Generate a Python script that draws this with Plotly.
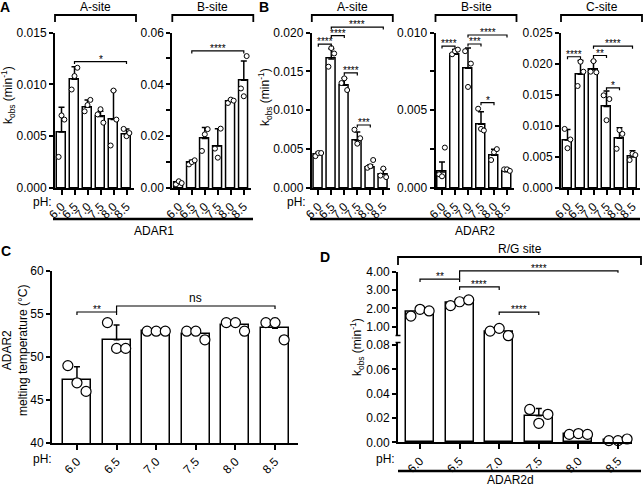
import plotly.graph_objects as go

W, H = 643, 488
FONT = "Liberation Sans, Arial, sans-serif"

ph_labels = ["6.0", "6.5", "7.0", "7.5", "8.0", "8.5"]

# A: ADAR1, A-site
adar1_a_mean = [0.0054, 0.0105, 0.0078, 0.0069, 0.0066, 0.0052]
adar1_a_sd = [0.0024, 0.0012, 0.0007, 0.0005, 0.0028, 0.0005]
adar1_a_pts = [[0.0030, 0.0070, 0.0066], [0.0095, 0.0108, 0.0116], [0.0074, 0.0080, 0.0085],
               [0.0071, 0.0076, 0.0063], [0.0041, 0.0094, 0.0066], [0.0057, 0.0050, 0.0053]]

# A: ADAR1, B-site
adar1_b_mean = [0.0021, 0.0098, 0.0191, 0.0162, 0.0335, 0.0416]
adar1_b_sd = [0.0005, 0.0009, 0.0042, 0.0067, 0.0006, 0.0074]
adar1_b_pts = [[0.0014, 0.0026, 0.0019], [0.0091, 0.0100, 0.0107], [0.0143, 0.0207, 0.0227],
               [0.0152, 0.0117, 0.0229], [0.0328, 0.0341, 0.0337], [0.0384, 0.0354, 0.0509]]

# B: ADAR2, A-site
adar2_a_mean = [0.0043, 0.0166, 0.0132, 0.0061, 0.0026, 0.0018]
adar2_a_sd = [0.0003, 0.0013, 0.0009, 0.0011, 0.0004, 0.0006]
adar2_a_pts = [[0.0041, 0.0045, 0.0045], [0.0156, 0.0180, 0.0173], [0.0135, 0.0141, 0.0126],
               [0.0075, 0.0057, 0.0064], [0.0026, 0.0028, 0.0036], [0.0016, 0.0025, 0.0014]]

# B: ADAR2, B-site
adar2_b_mean = [0.00103, 0.0086, 0.0077, 0.0041, 0.0021, 0.00105]
adar2_b_sd = [0.00064, 0.0003, 0.0013, 0.0008, 0.0004, 0.0002]
adar2_b_pts = [[0.00088, 0.00075, 0.0026], [0.0086, 0.0088, 0.0089], [0.0088, 0.0065, 0.0080],
               [0.0051, 0.0038, 0.0037], [0.0018, 0.0023, 0.0025], [0.0012, 0.0012, 0.0011]]

# B: ADAR2, C-site
adar2_c_mean = [0.0077, 0.0183, 0.0190, 0.0131, 0.0080, 0.0050]
adar2_c_sd = [0.0017, 0.0022, 0.0014, 0.0025, 0.0017, 0.0010]
adar2_c_pts = [[0.0095, 0.0064, 0.0078], [0.0164, 0.0203, 0.0187], [0.0187, 0.0204, 0.0186],
               [0.0149, 0.0109, 0.0143], [0.0063, 0.0093, 0.0087], [0.0045, 0.0055, 0.0053]]

# C: ADAR2 melting temperature
tm_mean = [47.33, 52.0, 53.0, 52.67, 53.67, 53.33]
tm_sd = [1.53, 1.73, 0.0, 0.58, 0.58, 1.15]
tm_pts = [[49, 47, 46], [54, 51, 51], [53, 53, 53], [53, 53, 52], [54, 54, 53], [54, 54, 52]]

# D: ADAR2d, R/G site
rg_mean = [1.80, 2.32, 0.73, 0.0219, 0.0067, 0.0018]
rg_sd = [0.19, 0.16, 0.20, 0.0058, 0.0004, 0.0008]
rg_pts = [[1.58, 1.95, 1.86], [2.15, 2.36, 2.46], [0.76, 0.91, 0.51],
          [0.027, 0.0156, 0.023], [0.0065, 0.0072, 0.0065], [0.0014, 0.0014, 0.0027]]

fig = go.Figure()
geo = {}
shapes = []
annots = []


def sfx(n):
    return "" if n == 1 else str(n)


def px_x(n, v):
    g = geo[n]
    return g["x0"] + (v - g["xr"][0]) / (g["xr"][1] - g["xr"][0]) * (g["x1"] - g["x0"])


def px_y(n, v):
    g = geo[n]
    return g["yb"] - (v - g["yr"][0]) / (g["yr"][1] - g["yr"][0]) * (g["yb"] - g["yt"])


def line(x0, y0, x1, y1, w=1.5):
    shapes.append(dict(type="line", xref="paper", yref="paper", x0=x0 / W, x1=x1 / W,
                       y0=1 - y0 / H, y1=1 - y1 / H, line=dict(color="black", width=w)))


def text(x, y, s, size=12, bold=False, angle=0, xanchor="center", yanchor="middle", yshift=0):
    if bold:
        s = "<b>" + s + "</b>"
    annots.append(dict(x=x / W, y=1 - y / H, xref="paper", yref="paper", text=s, showarrow=False,
                       font=dict(size=size, color="black", family=FONT), textangle=angle,
                       xanchor=xanchor, yanchor=yanchor, yshift=yshift))


def axes(n, xpx, ypx, xr, yr, yticks, fmt, minor=None, xanchor_n=None, ticklen=4):
    geo[n] = dict(x0=xpx[0], x1=xpx[1], yb=ypx[0], yt=ypx[1], xr=xr, yr=yr)
    xn = xanchor_n or n
    ya = dict(domain=[1 - ypx[0] / H, 1 - ypx[1] / H], range=yr, anchor="x" + sfx(xn),
              automargin=False, showline=True, linecolor="black", linewidth=2,
              ticks="outside", ticklen=ticklen, tickwidth=1.5, tickcolor="black",
              tickmode="array", tickvals=yticks, tickformat=fmt,
              showgrid=False, zeroline=False, tickfont=dict(size=12, color="black"))
    if minor:
        ya["minor"] = dict(dtick=minor, tick0=0, ticks="outside", ticklen=ticklen, tickwidth=1.5,
                           tickcolor="black", showgrid=False)
    fig.update_layout(**{"yaxis" + sfx(n): ya})
    if xanchor_n is None:
        xa = dict(domain=[xpx[0] / W, xpx[1] / W], range=xr, anchor="y" + sfx(n),
                  automargin=False, showline=True, linecolor="black", linewidth=2,
                  ticks="outside", ticklen=5, tickwidth=1.5, tickcolor="black",
                  tickmode="array", tickvals=list(range(len(ph_labels))),
                  ticktext=ph_labels, tickangle=-45, showgrid=False, zeroline=False,
                  tickfont=dict(size=12, color="black"))
        fig.update_layout(**{"xaxis" + sfx(n): xa})


def bars(n, mean, sd, pts, xn=None, jitter=0.22, msize=5, mline=1.0, bw=0.72, keep=None):
    xn = xn or n
    xs = list(range(len(mean)))
    fig.add_trace(go.Bar(x=xs, y=mean, xaxis="x" + sfx(xn), yaxis="y" + sfx(n), width=bw,
                         marker=dict(color="white", line=dict(color="black", width=1.5)),
                         error_y=dict(type="data", symmetric=False, array=sd,
                                      arrayminus=[0] * len(sd), color="black",
                                      thickness=1.5, width=3)))
    px, py = [], []
    for i, vals in enumerate(pts):
        for k, v in enumerate(vals):
            if keep is None or keep(v):
                px.append(i + (k - 1) * jitter)
                py.append(v)
    fig.add_trace(go.Scatter(x=px, y=py, xaxis="x" + sfx(xn), yaxis="y" + sfx(n), mode="markers",
                             cliponaxis=keep is None,
                             marker=dict(size=msize, color="white",
                                         line=dict(color="black", width=mline))))


def sig(n, i, j, level, label, drop=2.5, size=10, shift=-5, left_drop=None):
    x0, x1, y = px_x(n, i), px_x(n, j), px_y(n, level)
    ld = drop if left_drop is None else left_drop
    shapes.append(dict(type="path", xref="paper", yref="paper",
                       path=f"M{x0 / W},{1 - (y + ld) / H} L{x0 / W},{1 - y / H} "
                            f"L{x1 / W},{1 - y / H} L{x1 / W},{1 - (y + drop) / H}",
                       line=dict(color="black", width=1.2)))
    text((x0 + x1) / 2, y, label, size=size, yanchor="bottom", yshift=shift)


# ---- panels A and B: small bar charts ----
XR = [-0.5, 5.54]
WID = 13 * (XR[1] - XR[0])
YB, YT = 188, 32.5
small = [
    (1, adar1_a_mean, adar1_a_sd, adar1_a_pts, 55, [0, 0.015], [0, 0.005, 0.010, 0.015], ".3f", None),
    (2, adar1_b_mean, adar1_b_sd, adar1_b_pts, 172.3, [0, 0.06], [0, 0.02, 0.04, 0.06], ".2f", 0.01),
    (3, adar2_a_mean, adar2_a_sd, adar2_a_pts, 311.8, [0, 0.02], [0, 0.005, 0.010, 0.015, 0.020], ".3f", None),
    (4, adar2_b_mean, adar2_b_sd, adar2_b_pts, 435.5, [0, 0.01], [0, 0.005, 0.010], ".3f", 0.0025),
    (5, adar2_c_mean, adar2_c_sd, adar2_c_pts, 561, [0, 0.025],
     [0, 0.005, 0.010, 0.015, 0.020, 0.025], ".3f", None),
]
for n, m, s, p, x0, yr, yt, fmt, mn in small:
    axes(n, [x0, x0 + WID], [YB, YT], XR, yr, yt, fmt, minor=mn)
    bars(n, m, s, p)

site_titles = {1: "A-site", 2: "B-site", 3: "A-site", 4: "B-site", 5: "C-site"}
for n, t in site_titles.items():
    x0 = geo[n]["x0"]
    x1 = x0 + 81
    shapes.append(dict(type="path", xref="paper", yref="paper",
                       path=f"M{x0 / W},{1 - 22 / H} L{x0 / W},{1 - 15 / H} "
                            f"L{x1 / W},{1 - 15 / H} L{x1 / W},{1 - 22 / H}",
                       line=dict(color="black", width=1.8)))
    text((x0 + x1) / 2, 7, t)

sig(1, 1, 5, 0.0122, "*")
sig(2, 1, 5, 0.0529, "****")
sig(3, 0, 1, 0.0185, "****")
sig(3, 1, 2, 0.0196, "****")
sig(3, 1, 5, 0.0207, "****")
sig(3, 2, 3, 0.0148, "****")
sig(3, 3, 4, 0.0081, "***")
sig(4, 0, 1, 0.00913, "****")
sig(4, 2, 3, 0.00926, "***")
sig(4, 2, 5, 0.00984, "****")
sig(4, 3, 4, 0.00549, "*")
sig(5, 0, 1, 0.0211, "****")
sig(5, 2, 3, 0.0213, "**")
sig(5, 2, 5, 0.0228, "****")
sig(5, 3, 4, 0.0161, "*")

kobs = "k<sub>obs</sub> (min<sup>-1</sup>)"
text(8, 95, kobs, angle=-90)
text(265, 97, kobs, angle=-90)
text(42, 202, "pH:")
text(296, 202, "pH:")
line(53, 219, 253, 219, 2.5)
line(310, 219, 640, 219, 2.5)
text(154, 231, "ADAR1")
text(475, 231, "ADAR2")
text(5, 7, "A", size=14, bold=True)
text(264, 7, "B", size=14, bold=True)

# ---- panel C: melting temperature ----
axes(6, [52, 298], [443, 271], [-0.63, 5.58], [40, 60], [40, 45, 50, 55, 60], "d")
bars(6, tm_mean, tm_sd, tm_pts, jitter=0.23, msize=10, mline=1.2, bw=0.71)
sig(6, 0, 1, 55.23, "**", drop=3)
sig(6, 1, 5, 55.93, "ns", drop=3, size=12, shift=-1, left_drop=6)
text(15, 350, "ADAR2<br>melting temperature (°C)", angle=-90)
text(42, 459, "pH:")
text(6, 251, "C", size=14, bold=True)

# ---- panel D: ADAR2d, broken y axis ----
DXR = [-0.556, 5.354]
LOW = [0, 0.0849]
axes(7, [398, 632], [442.3, 339], DXR, LOW, [0, 0.02, 0.04, 0.06, 0.08], ".2f")
axes(8, [398, 632], [339, 271.7], DXR, [0.329, 4.0], [1, 2, 3, 4], ".2f", xanchor_n=7)
bars(7, rg_mean, rg_sd, rg_pts, jitter=0.23, msize=10, mline=1.2, bw=0.71,
     keep=lambda v: v <= LOW[1])
bars(8, rg_mean, rg_sd, rg_pts, xn=7, jitter=0.23, msize=10, mline=1.2, bw=0.71,
     keep=lambda v: v > LOW[1])
# axis break marks
shapes.append(dict(type="rect", xref="paper", yref="paper", x0=395 / W, x1=401 / W,
                   y0=1 - 342.5 / H, y1=1 - 335.5 / H, fillcolor="white",
                   line=dict(width=0), layer="above"))
line(395.5, 335.5, 400.5, 335.5, 1.5)
line(395.5, 342.5, 400.5, 342.5, 1.5)

sig(8, 0, 1, 3.60, "**", drop=3)
sig(8, 1, 5, 4.05, "****", drop=2, left_drop=8)
sig(8, 1, 2, 3.17, "****", drop=3)
sig(8, 2, 3, 1.80, "****", drop=3)

shapes.append(dict(type="path", xref="paper", yref="paper",
                   path=f"M{398 / W},{1 - 265 / H} L{398 / W},{1 - 257 / H} "
                        f"L{641 / W},{1 - 257 / H} L{641 / W},{1 - 265 / H}",
                   line=dict(color="black", width=1.8)))
text(520, 249, "R/G site")
text(357, 347, kobs, angle=-90)
text(385, 459, "pH:")
line(398, 471, 641, 471, 2.5)
text(510, 480, "ADAR2d")
text(325, 257, "D", size=14, bold=True)

fig.update_layout(template="none", width=W, height=H, margin=dict(l=0, r=0, t=0, b=0, pad=0),
                  paper_bgcolor="white", plot_bgcolor="white", showlegend=False,
                  font=dict(family=FONT, size=12, color="black"),
                  shapes=shapes, annotations=annots, bargap=0)
fig.write_html("out.html", config={"displayModeBar": False},
               post_script="document.body.style.margin = '0px';")
